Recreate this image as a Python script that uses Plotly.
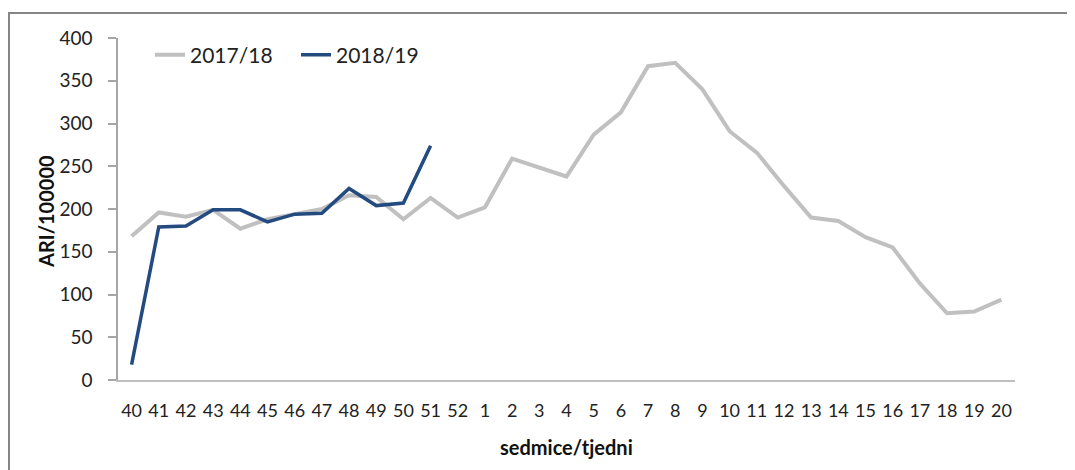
import plotly.graph_objects as go

weeks = ["40", "41", "42", "43", "44", "45", "46", "47", "48", "49", "50", "51", "52",
         "1", "2", "3", "4", "5", "6", "7", "8", "9", "10", "11", "12", "13", "14",
         "15", "16", "17", "18", "19", "20"]
season_2017_18 = [168, 196, 191, 199, 177, 188, 194, 200, 216, 214, 188, 213, 190,
                  202, 259, 248, 238, 287, 313, 367, 371, 340, 291, 266, 227, 190, 186,
                  167, 155, 113, 78, 80, 94]
season_2018_19 = [18, 179, 180, 199, 199, 185, 194, 195, 224, 204, 207, 274]

FONT = "Lato"
OFF = 8  # page body margin
W, H = 1075 - OFF, 470 - OFF
# plot area in page pixels: x 118..1015, y 38..380
L = 118 - OFF
T = 38 - OFF
R = W - (1015 - OFF)
B = H - (380 - OFF)
pw, ph = W - L - R, H - T - B


def px_x(x):
    return (x - OFF - L) / pw


def px_y(y):
    return (H - B - (y - OFF)) / ph


fig = go.Figure()
fig.add_trace(go.Scatter(x=weeks, y=season_2017_18, mode="lines", name="2017/18",
                         line=dict(color="#c0c0c0", width=4)))
fig.add_trace(go.Scatter(x=weeks[:len(season_2018_19)], y=season_2018_19, mode="lines",
                         name="2018/19", line=dict(color="#234b80", width=3.5)))

fig.update_layout(
    width=W, height=H,
    margin=dict(l=L, r=R, t=T, b=B, autoexpand=False),
    paper_bgcolor="white", plot_bgcolor="white",
    font=dict(family=FONT, color="#222222", size=18),
    showlegend=True,
    legend=dict(orientation="h", x=px_x(150), y=px_y(55), xanchor="left", yanchor="middle",
                font=dict(size=21, family=FONT, color="#222222"),
                bgcolor="rgba(0,0,0,0)", entrywidth=101, entrywidthmode="pixels",
                tracegroupgap=0),
    xaxis=dict(type="category", categoryorder="array", categoryarray=weeks,
               range=[-0.5, len(weeks) - 0.5], showline=True, linecolor="#bfbfbf",
               linewidth=1.5, ticks="", showgrid=False, zeroline=False,
               tickfont=dict(size=18, family=FONT, color="#222222"),
               ticklabelstandoff=14, automargin=False, fixedrange=True),
    yaxis=dict(range=[0, 400], dtick=50, showline=True, linecolor="#a6a6a6", linewidth=1.5,
               ticks="outside", ticklen=8, tickcolor="#a6a6a6", tickwidth=1.5,
               showgrid=False, zeroline=False,
               tickfont=dict(size=19, family=FONT, color="#222222"),
               ticklabelstandoff=12, automargin=False, fixedrange=True),
)

fig.add_annotation(text="<b>ARI/100000</b>", xref="paper", yref="paper",
                   x=px_x(46), y=px_y(212), textangle=-90, showarrow=False,
                   font=dict(size=20, family=FONT, color="#111111"),
                   xanchor="center", yanchor="middle")
fig.add_annotation(text="<b>sedmice/tjedni</b>", xref="paper", yref="paper",
                   x=0.5, y=px_y(447), showarrow=False,
                   font=dict(size=20, family=FONT, color="#111111"),
                   xanchor="center", yanchor="middle")

fig.add_shape(type="rect", xref="paper", yref="paper",
              x0=px_x(9), y0=px_y(480), x1=px_x(1085), y1=px_y(13),
              line=dict(color="#868686", width=2), fillcolor="rgba(0,0,0,0)", layer="below")

fig.write_html("out.html", config={"displayModeBar": False})
